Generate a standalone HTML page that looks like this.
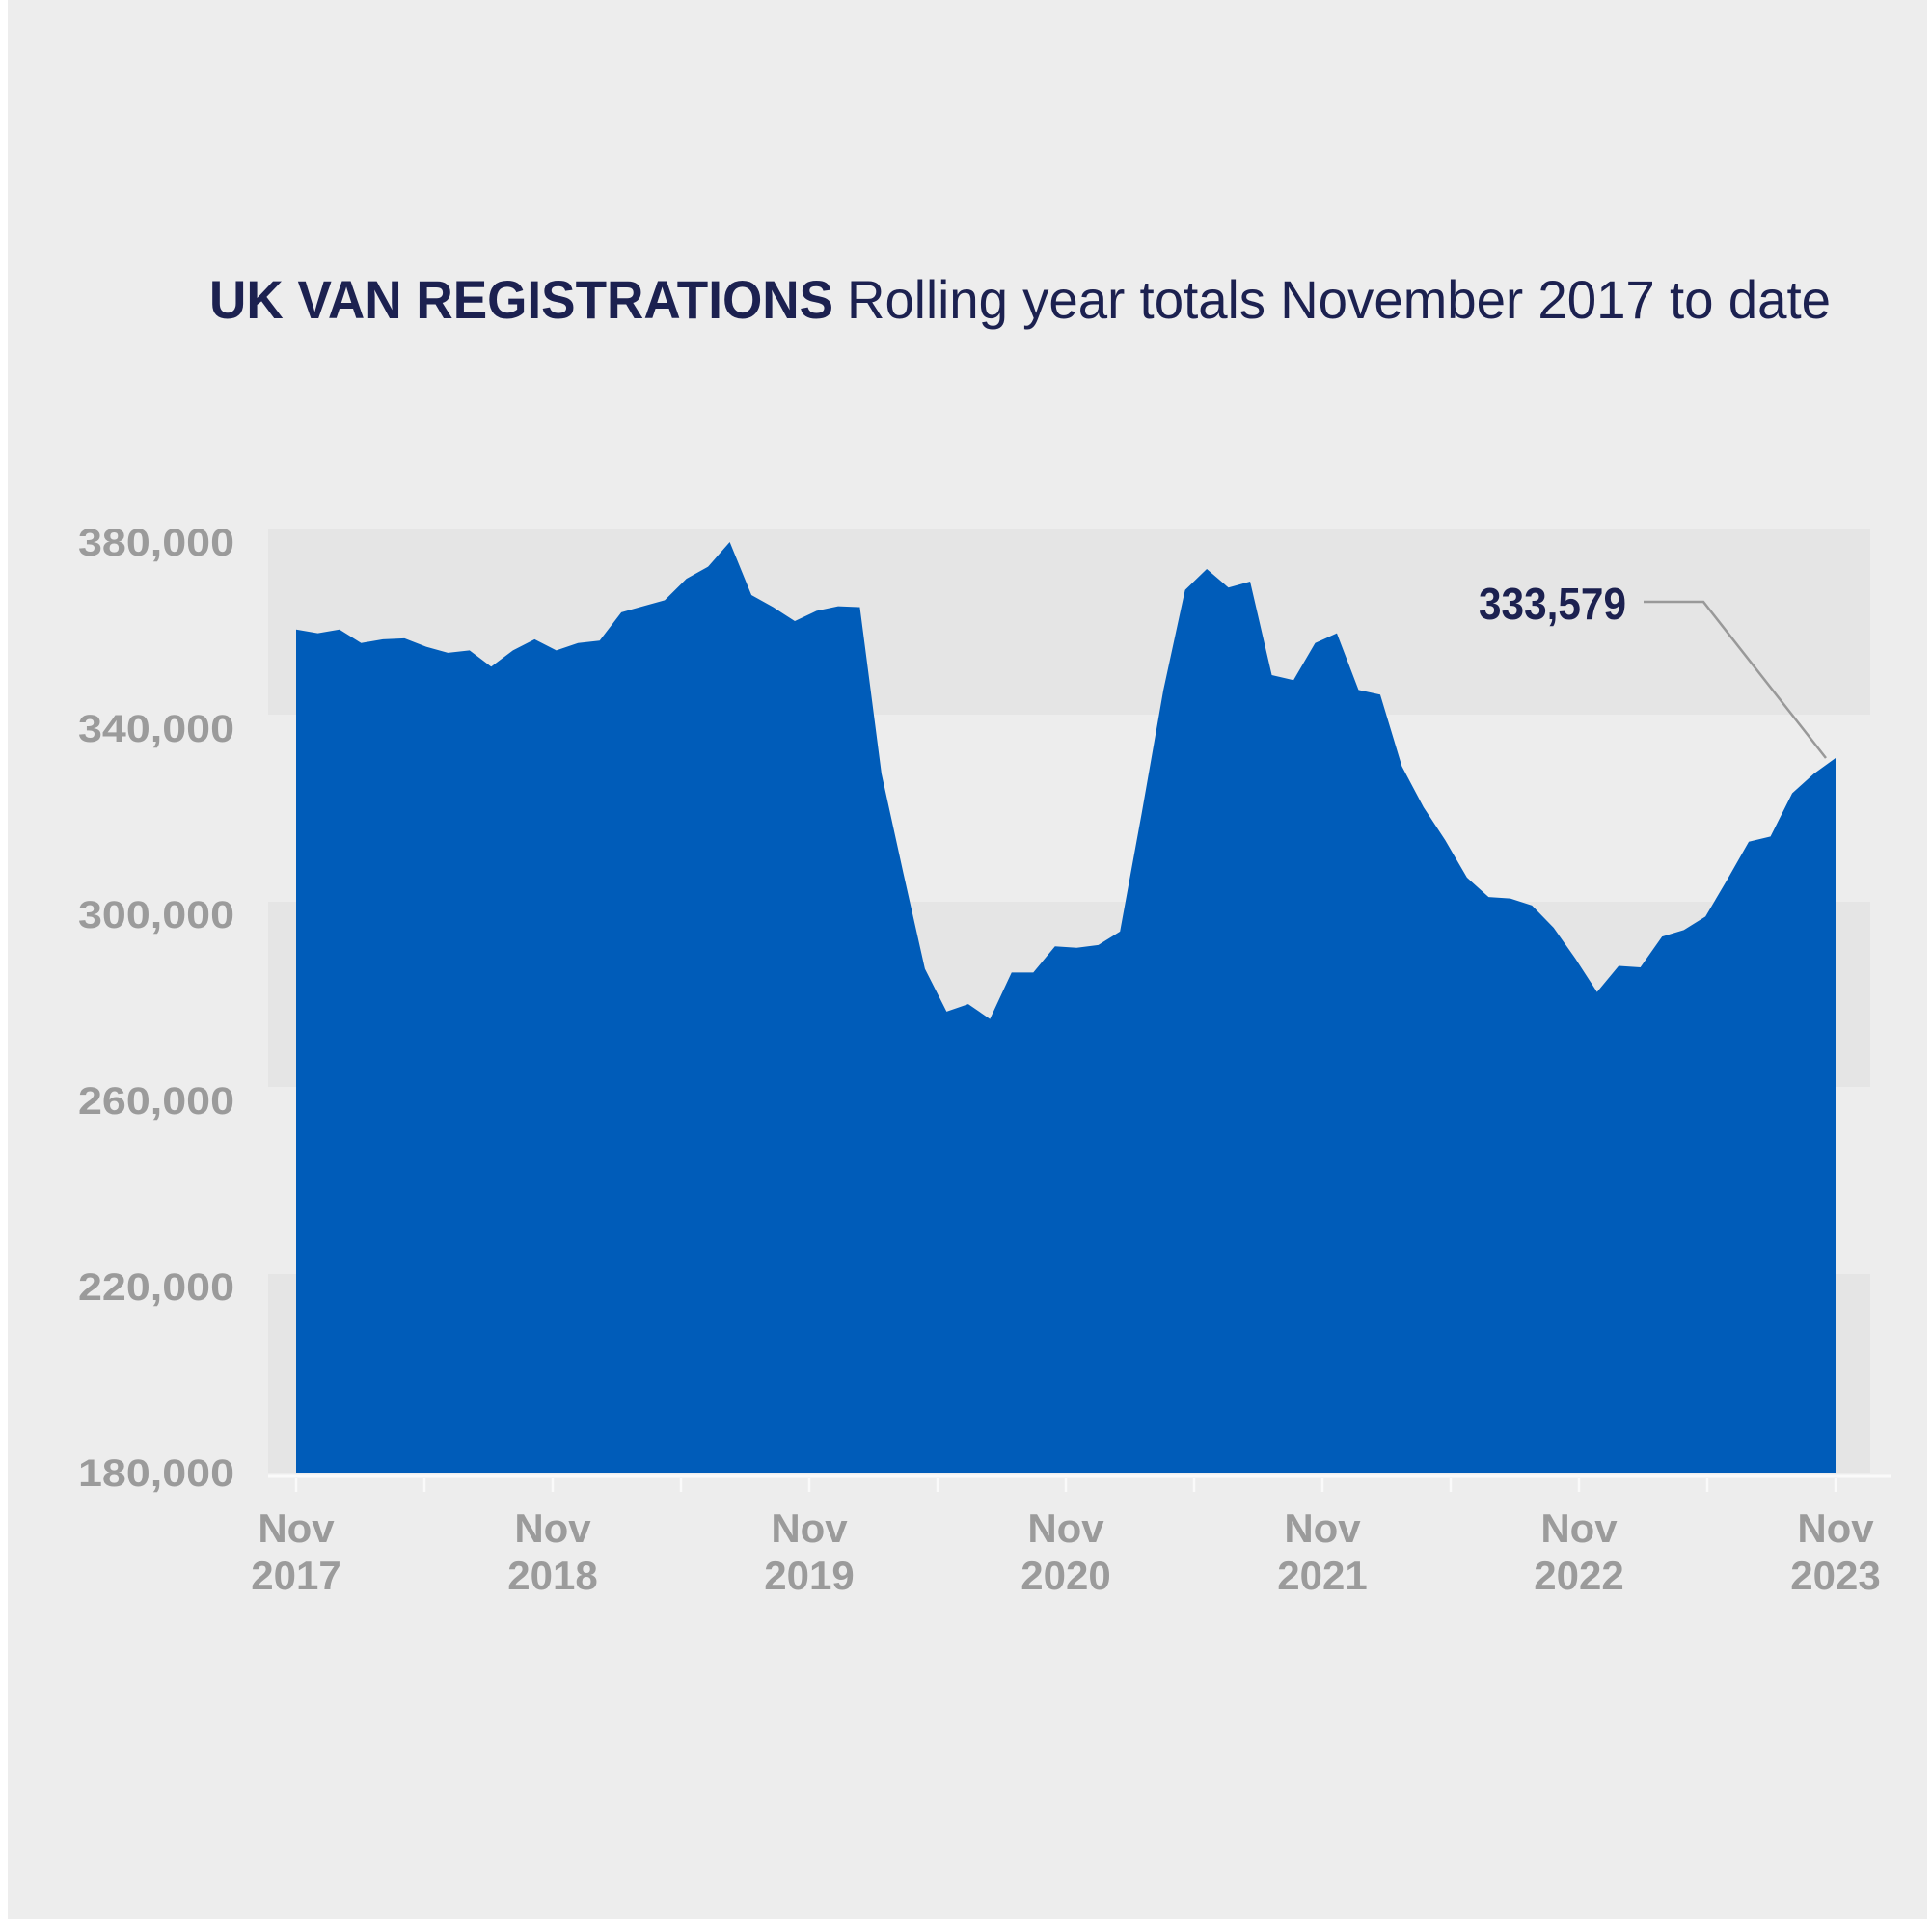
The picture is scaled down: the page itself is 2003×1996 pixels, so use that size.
<!DOCTYPE html>
<html><head><meta charset="utf-8"><style>
html,body{margin:0;padding:0;background:#fff}
svg{display:block}
</style></head><body>
<svg id="chart" width="2003" height="1996" viewBox="0 0 2003 1996" xmlns="http://www.w3.org/2000/svg">
<rect x="8" y="0" width="1990" height="1990" fill="#ededed"/>
<text x="217" y="330" font-family="'Liberation Sans', sans-serif" font-size="56" fill="#1c2150"><tspan font-weight="bold" textLength="647" lengthAdjust="spacingAndGlyphs">UK VAN REGISTRATIONS</tspan><tspan dx="14" textLength="1020" lengthAdjust="spacingAndGlyphs">Rolling year totals November 2017 to date</tspan></text>
<g id="bands"></g>
<g id="area"></g>
<g id="axes"></g>
<text x="1686" y="642" text-anchor="end" font-family="'Liberation Sans', sans-serif" font-weight="bold" font-size="46" fill="#1c2150" textLength="153" lengthAdjust="spacingAndGlyphs">333,579</text>
<polyline points="1704,624 1766,624 1893,786" fill="none" stroke="#999" stroke-width="2.5"/>
</svg>
<script>
const values = [361200,360400,361200,358300,359100,359300,357500,356200,356700,353200,
356700,359100,356700,358300,358800,364900,366200,367500,372100,374700,
380000,368600,366000,363000,365200,366200,366000,330200,309000,288300,
279100,280700,277500,287500,287500,293100,292800,293400,296300,321700,
348200,369700,374200,370200,371500,351400,350300,358300,360400,348200,
347200,331800,323000,315900,307900,303700,303400,301900,297100,290500,
283300,288900,288600,295200,296600,299500,307400,315600,316700,326000,
330200,333579];
const yTicks = [380000,340000,300000,260000,220000,180000];
const yTickLabels = ["380,000","340,000","300,000","260,000","220,000","180,000"];
const xTickLabels = [["Nov","2017"],["Nov","2018"],["Nov","2019"],["Nov","2020"],["Nov","2021"],["Nov","2022"],["Nov","2023"]];
const totalMonths = 72;

const NS="http://www.w3.org/2000/svg";
const X0=307,X1=1903,Y0=1527,Y1=562,YMIN=180000,YMAX=380000;
const xm=m=>X0+(X1-X0)*m/totalMonths;
const xi=i=>X0+(X1-X0)*i/(values.length-1);
const y=v=>Y0+(Y1-Y0)*(v-YMIN)/(YMAX-YMIN);
function mk(tag,attrs,parent){const e=document.createElementNS(NS,tag);for(const k in attrs)e.setAttribute(k,attrs[k]);parent.appendChild(e);return e;}

const bands=document.getElementById('bands');
for(let k=0;k<yTicks.length-1;k+=2){
  const top=y(yTicks[k])-13, bot=(k+2<yTicks.length)?y(yTicks[k+1])-14:Y0;
  const bottom=(yTicks[k+1]===YMIN)?Y0:y(yTicks[k+1])-14;
  const r=mk('rect',{x:278,y:top,width:1661,height:bottom-top,fill:'#e5e5e5'},bands);
  
  
}

const area=document.getElementById('area');
let d=`M${xi(0)},${y(YMIN)}`;
values.forEach((v,i)=>{d+=` L${xi(i)},${y(v)}`;});
d+=` L${xi(values.length-1)},${y(YMIN)} Z`;
const p=mk('path',{d:d,fill:'#005cb9'},area);



const axes=document.getElementById('axes');
const bl=mk('line',{x1:278,x2:1961,y1:Y0+3,y2:Y0+3,stroke:'#fafafa','stroke-width':3},axes);


yTicks.forEach((t,k)=>{
  const tx=mk('text',{x:243,y:y(t)+14,'text-anchor':'end','font-family':"'Liberation Sans', sans-serif",'font-weight':'bold','font-size':40,fill:'#9b9b9b',textLength:162,lengthAdjust:'spacingAndGlyphs'},axes);
  tx.textContent=yTickLabels[k];
  
  
});
for(let m=0;m<=totalMonths;m+=6){
  const l=mk('line',{x1:xm(m),x2:xm(m),y1:Y0+5,y2:Y0+20,stroke:'#fafafa','stroke-width':2.5},axes);
  
  
}
xTickLabels.forEach((lab,k)=>{
  const cx=xm(k*12);
  const a=mk('text',{x:cx,y:1599,'text-anchor':'middle','font-family':"'Liberation Sans', sans-serif",'font-weight':'bold','font-size':42,fill:'#9b9b9b'},axes);
  a.textContent=lab[0];
  
  
  const b=mk('text',{x:cx,y:1648,'text-anchor':'middle','font-family':"'Liberation Sans', sans-serif",'font-weight':'bold','font-size':42,fill:'#9b9b9b'},axes);
  b.textContent=lab[1];
  
  
});
</script>
</body></html>
